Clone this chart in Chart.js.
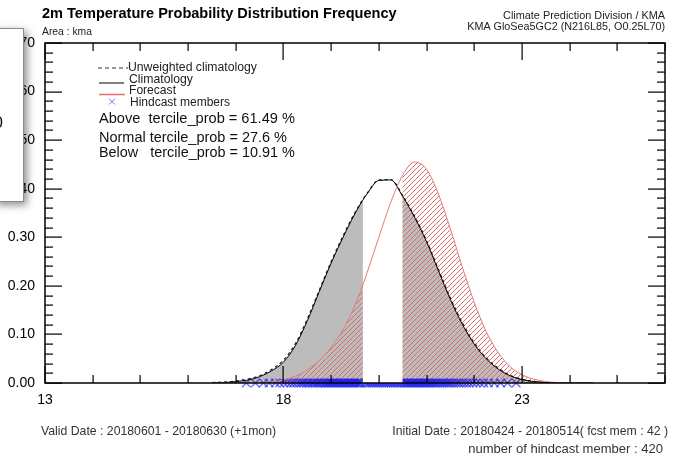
<!DOCTYPE html>
<html><head><meta charset="utf-8">
<script src="https://cdn.jsdelivr.net/npm/chart.js@4.4.1/dist/chart.umd.min.js"></script>
<style>html,body{margin:0;padding:0;background:#fff;overflow:hidden}#wrap{position:relative;width:673px;height:462px}canvas{display:block}</style>
</head><body><div id="wrap"><canvas id="c" width="673" height="462"></canvas></div>
<script>
// ---------- data ----------
const temps = [16.50,16.75,17.00,17.25,17.50,17.75,18.00,18.25,18.50,18.75,19.00,19.25,19.50,19.66,19.75,20.00,20.25,20.50,20.75,21.00,21.25,21.50,21.75,22.00,22.25,22.50,22.75,23.00,23.25,23.50,23.75,24.00,24.25,24.50];
const climatology = [0.001,0.001,0.003,0.006,0.013,0.025,0.043,0.077,0.128,0.188,0.247,0.300,0.349,0.376,0.389,0.417,0.418,0.384,0.341,0.291,0.231,0.172,0.121,0.080,0.050,0.029,0.015,0.007,0.003,0.001,0.000,0.000,0.000,0.000];
const unweightedClim = [0.001,0.002,0.004,0.008,0.015,0.028,0.047,0.081,0.132,0.191,0.250,0.303,0.351,0.377,0.390,0.418,0.419,0.386,0.343,0.293,0.234,0.175,0.124,0.083,0.052,0.031,0.016,0.008,0.003,0.001,0.000,0.000,0.000,0.000];
const forecast = [0.000,0.000,0.000,0.000,0.001,0.002,0.006,0.014,0.027,0.046,0.073,0.110,0.160,0.200,0.226,0.300,0.372,0.428,0.455,0.440,0.389,0.317,0.239,0.166,0.106,0.063,0.034,0.017,0.008,0.003,0.001,0.000,0.000,0.000];
const hindcastMembers = [17.22,17.41,17.58,17.70,17.83,17.92,18.01,18.08,18.15,18.21,18.27,18.33,18.38,18.42,18.47,18.51,18.55,18.60,18.63,18.67,18.71,18.74,18.78,18.81,18.85,18.88,18.91,18.94,18.97,19.00,19.03,19.06,19.09,19.12,19.15,19.18,19.21,19.24,19.27,19.30,19.33,19.36,19.39,19.42,19.45,19.48,19.51,19.54,19.57,19.60,19.63,19.70,19.74,19.78,19.82,19.86,19.90,19.94,19.98,20.02,20.06,20.10,20.14,20.18,20.22,20.26,20.30,20.34,20.38,20.42,20.46,20.49,20.53,20.56,20.59,20.62,20.65,20.68,20.71,20.74,20.77,20.80,20.83,20.86,20.89,20.92,20.95,20.98,21.01,21.04,21.07,21.10,21.13,21.17,21.20,21.24,21.28,21.32,21.36,21.40,21.44,21.48,21.52,21.57,21.62,21.67,21.72,21.78,21.84,21.90,21.97,22.04,22.12,22.20,22.30,22.42,22.55,22.70,22.88];
const tercileBounds = [19.66, 20.50];
const tercileProbs = ['61.49', '27.6', '10.91'];
const xTickValues = [13, 18, 23];
const yTickValues = [0, 0.1, 0.2, 0.3, 0.4, 0.5, 0.6, 0.7];
const xRange = [13, 26];
const yRange = [0, 0.7];

// ---------- texts ----------
const titleText = '2m Temperature Probability Distribution Frequency';
const areaText = 'Area : kma';
const orgText = 'Climate Prediction Division / KMA';
const modelText = 'KMA GloSea5GC2 (N216L85, O0.25L70)';
const validText = 'Valid Date : 20180601 - 20180630 (+1mon)';
const initText = 'Initial Date : 20180424 - 20180514( fcst mem : 42 )';
const hindText = 'number of hindcast member : 420';
const legendLabels = ['Unweighted climatology', 'Climatology', 'Forecast', 'Hindcast members'];
const probLabels = ['Above  tercile_prob = ' + tercileProbs[0] + ' %', 'Normal tercile_prob = ' + tercileProbs[1] + ' %', 'Below   tercile_prob = ' + tercileProbs[2] + ' %'];

const FAM = '"Liberation Sans", Arial, Helvetica, sans-serif';
Chart.defaults.font.family = FAM;

const canvas = document.getElementById('c');
const ctx0 = canvas.getContext('2d');
// red hatch pattern
const pc = document.createElement('canvas'); pc.width = 5; pc.height = 5;
const pg = pc.getContext('2d');
pg.strokeStyle = 'rgba(220,100,100,0.95)'; pg.lineWidth = 1;
pg.beginPath(); pg.moveTo(0,5); pg.lineTo(5,0); pg.moveTo(-1,1); pg.lineTo(1,-1); pg.moveTo(4,6); pg.lineTo(6,4); pg.stroke();
const hatch = ctx0.createPattern(pc, 'repeat');

const pts = arr => temps.map((t, i) => ({x: t, y: arr[i]}));
const markerColor = 'rgba(20,20,240,0.6)';

function fitFont(ctx, text, width, weight) {
  ctx.font = weight + ' 100px ' + FAM;
  const w = ctx.measureText(text).width;
  ctx.font = weight + ' ' + (100 * width / w).toFixed(2) + 'px ' + FAM;
}

const textItems = [
  {t: titleText, x: 42, y: 18, w: 355, align: 'left', weight: 'bold', color: '#000'},
  {t: areaText, x: 42, y: 34.5, w: 50, align: 'left', weight: 'normal', color: '#222'},
  {t: orgText, x: 665, y: 19, w: 162, align: 'right', weight: 'normal', color: '#222'},
  {t: modelText, x: 665, y: 30, w: 198, align: 'right', weight: 'normal', color: '#222'},
  {t: validText, x: 41, y: 435, w: 235, align: 'left', weight: 'normal', color: '#333'},
  {t: initText, x: 668, y: 435, w: 276, align: 'right', weight: 'normal', color: '#333'},
  {t: hindText, x: 663, y: 453, w: 195, align: 'right', weight: 'normal', color: '#333'},
  {t: legendLabels[0], x: 128, y: 71, w: 129, align: 'left', weight: 'normal', color: '#222'},
  {t: legendLabels[1], x: 129, y: 82.5, w: 64, align: 'left', weight: 'normal', color: '#222'},
  {t: legendLabels[2], x: 129, y: 94, w: 47, align: 'left', weight: 'normal', color: '#222'},
  {t: legendLabels[3], x: 130, y: 106, w: 100, align: 'left', weight: 'normal', color: '#222'},
  {t: probLabels[0], x: 99, y: 123, w: 196, align: 'left', weight: 'normal', color: '#111'},
  {t: probLabels[1], x: 99, y: 142, w: 188, align: 'left', weight: 'normal', color: '#111'},
  {t: probLabels[2], x: 99, y: 157, w: 196, align: 'left', weight: 'normal', color: '#111'}
];

const decor = {
  id: 'decor',
  afterDraw(chart) {
    const ctx = chart.ctx;
    const a = chart.chartArea;
    const xs = chart.scales.x, ys = chart.scales.y;
    ctx.save();
    ctx.setLineDash([]);
    ctx.fillStyle = '#000';
    // inward tick marks on all four sides
    for (let v = xRange[0]; v <= xRange[1]; v++) {
      const px = Math.round(xs.getPixelForValue(v));
      const len = xTickValues.indexOf(v) >= 0 ? 17 : 8;
      ctx.fillRect(px - 0.5, a.bottom - len, 1.2, len);
      ctx.fillRect(px - 0.5, a.top, 1.2, len);
    }
    const n = Math.round((yRange[1] - yRange[0]) / 0.02);
    for (let i = 0; i <= n; i++) {
      const py = Math.round(ys.getPixelForValue(yRange[0] + i * 0.02));
      const len = (i % 5 === 0) ? 17 : 8;
      ctx.fillRect(a.left, py - 0.5, len, 1.2);
      ctx.fillRect(a.right - len, py - 0.5, len, 1.2);
    }
    ctx.strokeStyle = '#000';
    ctx.lineWidth = 1.5;
    ctx.strokeRect(a.left, a.top, a.right - a.left, a.bottom - a.top);

    // legend symbols
    ctx.lineWidth = 1;
    ctx.strokeStyle = '#333'; ctx.setLineDash([4, 3]);
    ctx.beginPath(); ctx.moveTo(98, 68); ctx.lineTo(128, 68); ctx.stroke();
    ctx.setLineDash([]);
    ctx.strokeStyle = '#000';
    ctx.beginPath(); ctx.moveTo(99, 83); ctx.lineTo(124, 83); ctx.stroke();
    ctx.strokeStyle = 'rgb(230,110,110)'; ctx.lineWidth = 1.5;
    ctx.beginPath(); ctx.moveTo(99, 94.5); ctx.lineTo(125, 94.5); ctx.stroke();
    ctx.strokeStyle = 'rgba(60,60,255,0.7)'; ctx.lineWidth = 1;
    ctx.beginPath(); ctx.moveTo(109, 98.5); ctx.lineTo(115, 104.5); ctx.moveTo(115, 98.5); ctx.lineTo(109, 104.5); ctx.stroke();

    // texts
    ctx.textBaseline = 'alphabetic';
    for (const it of textItems) {
      fitFont(ctx, it.t, it.w, it.weight);
      ctx.fillStyle = it.color; ctx.textAlign = it.align;
      ctx.fillText(it.t, it.x, it.y);
    }

    // overlapping pop-up box at the left edge
    ctx.save();
    ctx.shadowColor = 'rgba(0,0,0,0.45)'; ctx.shadowBlur = 8; ctx.shadowOffsetX = 3; ctx.shadowOffsetY = 3;
    ctx.fillStyle = '#fff';
    ctx.fillRect(-6, 28, 30, 174);
    ctx.restore();
    ctx.strokeStyle = '#8a8a8a'; ctx.lineWidth = 1;
    ctx.strokeRect(-6.5, 28.5, 30, 173);
    ctx.fillStyle = '#111'; ctx.textAlign = 'left';
    ctx.font = '17px ' + FAM;
    ctx.fillText('0', -6.5, 128);
    ctx.restore();
  }
};

new Chart(canvas, {
  type: 'line',
  data: {
    datasets: [
      {label: 'climFill', data: pts(climatology), fill: 'origin', backgroundColor: '#bcbcbc', borderWidth: 0, borderColor: 'rgba(0,0,0,0)', pointRadius: 0, cubicInterpolationMode: 'monotone', order: 7},
      {label: 'fcstFill', data: pts(forecast), fill: 'origin', backgroundColor: hatch, borderWidth: 0, borderColor: 'rgba(0,0,0,0)', pointRadius: 0, cubicInterpolationMode: 'monotone', order: 6},
      {label: 'Hindcast members', data: hindcastMembers.map(v => ({x: v, y: 0})), showLine: false, pointStyle: 'crossRot', pointRadius: 6, pointBorderWidth: 1.4, pointBorderColor: markerColor, pointBackgroundColor: markerColor, clip: false, order: 5},
      {label: 'band', data: tercileBounds.map(v => ({x: v, y: yRange[1]})), fill: 'origin', backgroundColor: '#fff', borderWidth: 0, borderColor: 'rgba(0,0,0,0)', pointRadius: 0, order: 4},
      {label: 'Unweighted climatology', data: pts(unweightedClim), fill: false, borderColor: '#222', borderWidth: 1.2, borderDash: [3, 3], pointRadius: 0, cubicInterpolationMode: 'monotone', order: 3},
      {label: 'Climatology', data: pts(climatology), fill: false, borderColor: '#000', borderWidth: 1, pointRadius: 0, cubicInterpolationMode: 'monotone', order: 2},
      {label: 'Forecast', data: pts(forecast), fill: false, borderColor: 'rgb(232,120,120)', borderWidth: 1, pointRadius: 0, cubicInterpolationMode: 'monotone', order: 1}
    ]
  },
  options: {
    responsive: false,
    devicePixelRatio: 1,
    animation: false,
    events: [],
    layout: {padding: {left: 0, right: 8, top: 43, bottom: 0}},
    plugins: {legend: {display: false}, tooltip: {enabled: false}, title: {display: false}},
    scales: {
      x: {
        type: 'linear', position: 'bottom', min: xRange[0], max: xRange[1],
        grid: {display: false, drawTicks: false}, border: {display: false},
        ticks: {font: {size: 14}, color: '#000', padding: 9, maxRotation: 0, autoSkip: false, callback: v => String(v)},
        afterBuildTicks: s => { s.ticks = xTickValues.map(v => ({value: v})); },
        afterFit: s => { s.height = 79; }
      },
      y: {
        type: 'linear', position: 'left', min: yRange[0], max: yRange[1],
        grid: {display: false, drawTicks: false}, border: {display: false},
        ticks: {font: {size: 14}, color: '#000', padding: 10, autoSkip: false, callback: v => Number(v).toFixed(2)},
        afterBuildTicks: s => { s.ticks = yTickValues.map(v => ({value: v})); },
        afterFit: s => { s.width = 45; }
      }
    }
  },
  plugins: [decor]
});
</script>
</body></html>
